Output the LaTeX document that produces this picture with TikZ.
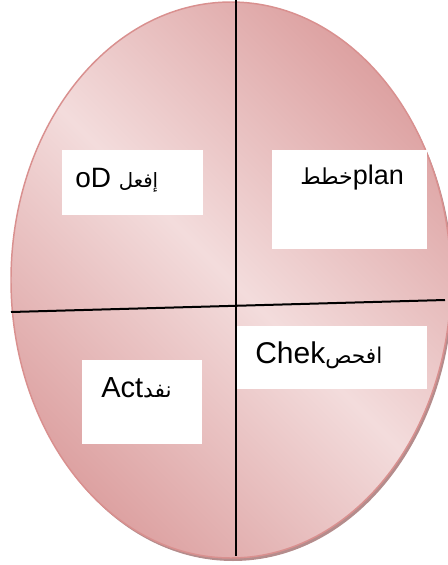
\documentclass[tikz,border=0pt]{standalone}
\usepackage{fontspec}
\setmainfont{Liberation Sans}
\newfontfamily\arabicfont[Script=Arabic]{DejaVu Sans}
\TeXXeTstate=1
\definecolor{pdark}{HTML}{DDA2A2}
\definecolor{plight}{HTML}{F3DCDC}
\definecolor{pedge}{HTML}{D9908F}
\definecolor{pshadow}{HTML}{B48C8C}
% light diagonal band between two darker corners
\pgfdeclarehorizontalshading{petal}{100bp}{color(0bp)=(pdark); color(25bp)=(pdark); color(50bp)=(plight); color(75bp)=(pdark); color(100bp)=(pdark)}
% Arabic word at a given size, set right to left
\newcommand{\ar}[2]{{\arabicfont\fontsize{#1}{#1}\selectfont\beginR #2\endR}}
\tikzset{
  card/.style={fill=white, draw=none, inner sep=0pt},
  lbl/.style={inner sep=0pt, anchor=base west, text=black},
  divider/.style={draw=black, line width=1.5pt},
}
\begin{document}
\begin{tikzpicture}[x=0.75pt, y=-0.75pt]
  \useasboundingbox (0,0) rectangle (448,565);
  \coordinate (c) at (231,280);
  \coordinate (cs) at (233,283);
  % oval with soft shadow
  \fill[pshadow] (cs) ellipse [x radius=165pt, y radius=208.5pt];
  \path[shading=petal, shading angle=45, draw=pedge, line width=1.1pt]
    (c) ellipse [x radius=165pt, y radius=208.5pt];
  % quadrant dividers
  \coordinate (vtop) at (235.5,0);
  \coordinate (vbot) at (235.5,556);
  \coordinate (hleft) at (11,312);
  \coordinate (hright) at (445,300);
  \draw[divider] (vtop) -- (vbot);
  \draw[divider] (hleft) -- (hright);
  % quadrant cards
  \node[card, minimum width=141*0.75pt, minimum height=65*0.75pt] (doBox) at (132.5,182.5) {};
  \node[card, minimum width=155*0.75pt, minimum height=99*0.75pt] (planBox) at (349.5,199.5) {};
  \node[card, minimum width=120*0.75pt, minimum height=84*0.75pt] (actBox) at (142,402) {};
  \node[card, minimum width=190*0.75pt, minimum height=63*0.75pt] (chekBox) at (332,357.5) {};
  % labels
  \node[lbl, font=\fontsize{21pt}{24pt}\selectfont] (doText) at (75,187) {oD \ar{14.8pt}{إفعل}};
  \node[lbl, font=\fontsize{20.25pt}{24pt}\selectfont] (planText) at (300,184) {\ar{16.5pt}{خطط}plan};
  \node[lbl, font=\fontsize{21.75pt}{24pt}\selectfont] (actText) at (101,397) {Act\ar{16.4pt}{نفد}};
  \node[lbl, font=\fontsize{22.5pt}{24pt}\selectfont] (chekText) at (255,363) {Chek\ar{16.3pt}{افحص}};
\end{tikzpicture}
\end{document}
